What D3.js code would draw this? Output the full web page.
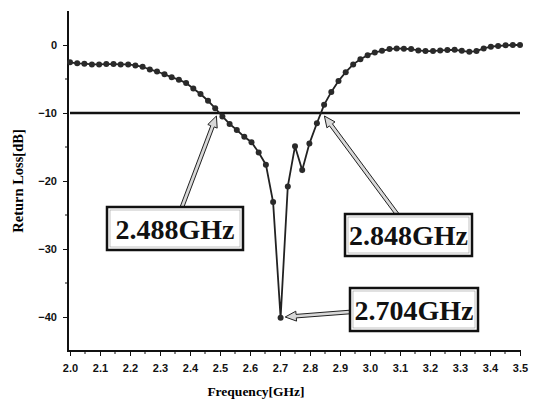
<!DOCTYPE html>
<html>
<head>
<meta charset="utf-8">
<script src="https://cdn.jsdelivr.net/npm/d3@7"></script>
<style>
  body { margin: 0; background: #fff; }
  svg { display: block; }
  .tick text { font-family: "Liberation Sans", Arial, sans-serif; font-weight: bold; font-size: 11px; fill: #111; }
  .tick line, .domain { stroke: #111; }
</style>
</head>
<body>
<svg id="chart" width="541" height="401"></svg>
<script>
// measured frequency sweep (GHz)
var freq = [2.000, 2.024, 2.048, 2.073, 2.097, 2.121, 2.145, 2.169, 2.194, 2.218,
            2.242, 2.266, 2.290, 2.315, 2.339, 2.363, 2.387, 2.411, 2.435, 2.460,
            2.484, 2.508, 2.532, 2.556, 2.581, 2.605, 2.629, 2.653, 2.677, 2.702,
            2.726, 2.750, 2.774, 2.798, 2.823, 2.847, 2.871, 2.895, 2.919, 2.944,
            2.968, 2.992, 3.016, 3.040, 3.065, 3.089, 3.113, 3.137, 3.161, 3.185,
            3.210, 3.234, 3.258, 3.282, 3.306, 3.331, 3.355, 3.379, 3.403, 3.427,
            3.452, 3.476, 3.500];
// return loss (dB)
var returnLoss = [-2.55, -2.7, -2.75, -2.85, -2.85, -2.8, -2.8, -2.85, -2.85, -3.0,
                  -3.2, -3.6, -3.9, -4.3, -4.75, -5.1, -5.6, -6.4, -7.2, -8.2,
                  -9.3, -10.5, -11.6, -12.5, -13.5, -14.3, -15.8, -17.6, -23.1, -40.1,
                  -20.8, -14.9, -18.4, -14.5, -11.5, -8.8, -6.9, -5.3, -4.0, -2.85,
                  -2.1, -1.5, -1.1, -0.85, -0.6, -0.5, -0.55, -0.6, -0.8, -0.9,
                  -0.9, -0.8, -0.75, -0.7, -0.85, -1.0, -0.9, -0.5, -0.25, -0.15,
                  -0.05, 0, 0];
var xTicks = [2.0, 2.1, 2.2, 2.3, 2.4, 2.5, 2.6, 2.7, 2.8, 2.9, 3.0, 3.1, 3.2, 3.3, 3.4, 3.5];
var yTicks = [0, -10, -20, -30, -40];
var threshold = -10;
// annotations: marked frequency, its level, label text
var markFreq = [2.488, 2.848, 2.704];
var markLevel = [-10, -10, -40];
var markLabel = ['2.488GHz', '2.848GHz', '2.704GHz'];

var svg = d3.select('#chart');
var x = d3.scaleLinear().domain([2.0, 3.5]).range([70, 520]);
var y = d3.scaleLinear().domain([-45, 5]).range([351, 11]);

// axes
var gx = svg.append('g')
  .attr('transform', 'translate(0,' + y(-45) + ')')
  .call(d3.axisBottom(x).tickValues(xTicks).tickFormat(d3.format('.1f')).tickSize(5).tickPadding(8));
gx.select('.domain').attr('stroke-width', 2).attr('d', 'M' + (x(2.0) - 2) + ',0H' + (x(3.5) + 1));
gx.append('g').selectAll('line')
  .data(d3.range(2.05, 3.5, 0.1))
  .join('line')
  .attr('x1', function(d) { return x(d); }).attr('x2', function(d) { return x(d); })
  .attr('y1', 0).attr('y2', 3)
  .attr('stroke', '#111');

var gy = svg.append('g')
  .attr('transform', 'translate(' + (x(2.0) - 2) + ',0)')
  .call(d3.axisLeft(y).tickValues(yTicks).tickSize(5).tickPadding(6));
gy.select('.domain').attr('stroke-width', 2).attr('d', 'M0,' + y(5) + 'V' + (y(-45) + 1));
gy.append('g').selectAll('line')
  .data([-5, -15, -25, -35])
  .join('line')
  .attr('y1', function(d) { return y(d); }).attr('y2', function(d) { return y(d); })
  .attr('x1', 0).attr('x2', -3)
  .attr('stroke', '#111');

// axis titles
svg.append('text')
  .attr('transform', 'translate(23,' + y(-20) + ') rotate(-90)')
  .attr('text-anchor', 'middle')
  .style('font-family', '"Liberation Serif", "Times New Roman", serif')
  .style('font-weight', 'bold')
  .style('font-size', '14.5px')
  .text('Return Loss[dB]');

svg.append('text')
  .attr('x', 256).attr('y', 396)
  .attr('text-anchor', 'middle')
  .style('font-family', '"Liberation Serif", "Times New Roman", serif')
  .style('font-weight', 'bold')
  .style('font-size', '13.5px')
  .text('Frequency[GHz]');

// -10 dB reference line
svg.append('line')
  .attr('x1', x(2.0)).attr('x2', x(3.5))
  .attr('y1', y(threshold)).attr('y2', y(threshold))
  .attr('stroke', '#111').attr('stroke-width', 2.6);

// curve
var pts = freq.map(function(f, i) { return [f, returnLoss[i]]; });
svg.append('path')
  .datum(pts)
  .attr('fill', 'none')
  .attr('stroke', '#222')
  .attr('stroke-width', 1.8)
  .attr('d', d3.line().x(function(d) { return x(d[0]); }).y(function(d) { return y(d[1]); }));
svg.append('g').selectAll('circle')
  .data(pts)
  .join('circle')
  .attr('cx', function(d) { return x(d[0]); })
  .attr('cy', function(d) { return y(d[1]); })
  .attr('r', 3)
  .attr('fill', '#2a2a2a');

// annotation boxes and hollow arrows
var boxes = [[107, 207, 136, 43], [345, 214, 127, 42], [350, 288, 128, 43]];
var starts = [[182, 207], [397, 214], [350, 312]];

function arrowPath(x1, y1, x2, y2) {
  var dx = x2 - x1, dy = y2 - y1, len = Math.sqrt(dx * dx + dy * dy);
  var ux = dx / len, uy = dy / len, nx = -uy, ny = ux;
  var hl = 11, hw = 5, sw = 1.8;
  var bx = x2 - ux * hl, by = y2 - uy * hl;
  var p = [
    [x1 + nx * sw, y1 + ny * sw], [bx + nx * sw, by + ny * sw], [bx + nx * hw, by + ny * hw],
    [x2, y2],
    [bx - nx * hw, by - ny * hw], [bx - nx * sw, by - ny * sw], [x1 - nx * sw, y1 - ny * sw]
  ];
  return 'M' + p.map(function(q) { return q[0].toFixed(1) + ',' + q[1].toFixed(1); }).join('L') + 'Z';
}

markFreq.forEach(function(f, i) {
  svg.append('path')
    .attr('d', arrowPath(starts[i][0], starts[i][1], x(f) + (i == 2 ? 4 : 0), y(markLevel[i]) + (i == 2 ? 0 : 3)))
    .attr('fill', '#d8d8d8')
    .attr('stroke', '#222')
    .attr('stroke-width', 1);

  var b = boxes[i];
  svg.append('rect')
    .attr('x', b[0]).attr('y', b[1]).attr('width', b[2]).attr('height', b[3])
    .attr('fill', '#fff').attr('stroke', '#111').attr('stroke-width', 2.5);
  svg.append('rect')
    .attr('x', b[0] + 3).attr('y', b[1] + 3).attr('width', b[2] - 6).attr('height', b[3] - 6)
    .attr('fill', 'none').attr('stroke', '#999').attr('stroke-width', 0.6);
  svg.append('text')
    .attr('x', b[0] + b[2] / 2).attr('y', b[1] + b[3] / 2 + 10)
    .attr('text-anchor', 'middle')
    .style('font-family', '"Liberation Serif", "Times New Roman", serif')
    .style('font-weight', 'bold')
    .style('font-size', '28px')
    .attr('fill', '#111')
    .text(markLabel[i]);
});
</script>
</body>
</html>
